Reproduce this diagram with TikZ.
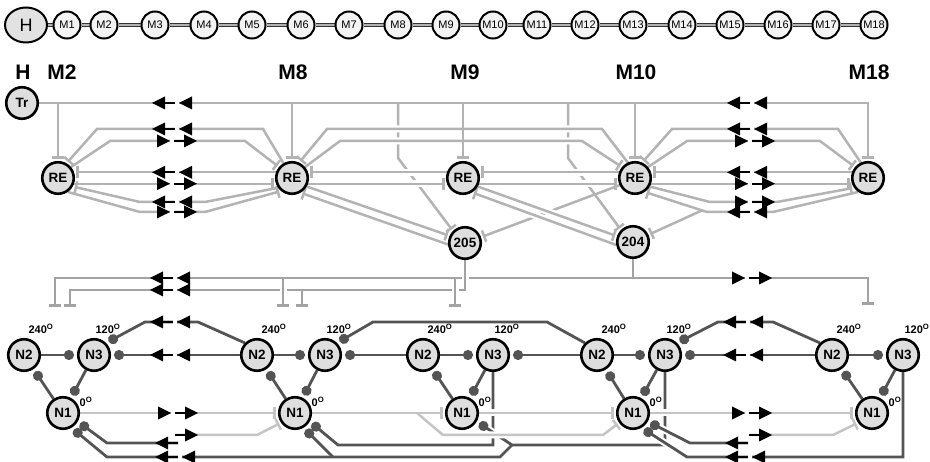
\documentclass[tikz,border=0pt]{standalone}
\usepackage{fontspec}
\setmainfont{Liberation Sans}
\usetikzlibrary{arrows.meta,shapes.geometric}
\pgfdeclarelayer{bg}
\pgfsetlayers{bg,main}
\definecolor{upg}{HTML}{B3B3B3}
\definecolor{outg}{HTML}{A3A3A3}
\definecolor{dkg}{HTML}{545454}
\definecolor{ltg}{HTML}{C4C4C4}
\definecolor{nfill}{HTML}{DEDEDE}
\definecolor{mfill}{HTML}{F3F3F3}
\newcommand{\halfmark}[3]{%
  \draw[black,line width=2.3pt] ({#1-4*#3},#2) -- ({#1+9*#3},#2);
  \fill[black] ({#1+6*#3},{#2-6.5}) -- ({#1+19*#3},#2) -- ({#1+6*#3},{#2+6.5}) -- cycle;}
\newcommand{\brkmark}[3]{%
  \fill[white] ({#1-8*#3},{#2-3.5}) rectangle ({#1-4*#3},{#2+3.5});
  \fill[black] ({#1-21*#3},{#2-6.5}) -- ({#1-8*#3},#2) -- ({#1-21*#3},{#2+6.5}) -- cycle;
  \halfmark{#1}{#2}{#3}}
\tikzset{
 nd/.style={circle,draw=black,line width=2.6pt,fill=nfill,minimum size=31.5pt,inner sep=0pt,font=\bfseries\fontsize{13.5}{13.5}\selectfont},
 mn/.style={circle,draw=black,line width=2pt,fill=mfill,minimum size=27pt,inner sep=0pt,font=\fontsize{11}{11}\selectfont},
 hel/.style={ellipse,draw=black,line width=2pt,fill=mfill!85!gray,minimum width=42pt,minimum height=35pt,inner sep=0pt,font=\fontsize{18}{18}\selectfont},
 seg/.style={font=\bfseries\fontsize{21}{21}\selectfont,inner sep=0pt},
 deg/.style={font=\bfseries\fontsize{11}{11}\selectfont,inner sep=0pt},
 dbl/.style={draw=black!80,line width=1.1pt,double=black!30,double distance=1.6pt},
 gl/.style={draw=upg,line width=2.5pt},
 ol/.style={draw=outg,line width=2.5pt},
 dk/.style={draw=dkg,line width=2.8pt},
 lt/.style={draw=ltg,line width=2.5pt},
 inh/.style={-{Bar[width=12pt]},shorten >=2pt},
 dot/.style={-{Circle[length=10pt]},shorten >=3pt},
 case/.style={preaction={draw=white,line width=7pt,-,shorten >=9pt,shorten <=9pt}},
}
\begin{document}
\begin{tikzpicture}[x=1pt,y=-1pt]
\useasboundingbox (0,0) rectangle (930,462);
% ---------- top row ----------
\node[hel] (H) at (26,25) {H};
\foreach \i/\x in {1/67,2/104,3/155,4/204,5/252,6/301,7/349,8/398,9/446,10/493,11/537,12/585,13/633,14/682,15/730,16/778,17/826,18/874}
  {\node[mn] (M\i) at (\x,25) {M\i};}
\begin{pgfonlayer}{bg}
\draw[dbl] (H) -- (M1);
\foreach \i/\j in {1/2,2/3,3/4,4/5,5/6,6/7,7/8,8/9,9/10,10/11,11/12,12/13,13/14,14/15,15/16,16/17,17/18}
  {\draw[dbl] (M\i) -- (M\j);}
\end{pgfonlayer}
% ---------- segment labels ----------
\node[seg] (LH) at (23,72) {H};
\node[seg] (LM2) at (62,72) {M2};
\node[seg] (LM8) at (293,72) {M8};
\node[seg] (LM9) at (465,72) {M9};
\node[seg] (LM10) at (636,72) {M10};
\node[seg] (LM18) at (869,72) {M18};
% ---------- upper nodes ----------
\node[nd] (Tr) at (22,103) {Tr};
\node[nd] (REa) at (58,178) {RE};
\node[nd] (REb) at (292,178) {RE};
\node[nd] (REc) at (463,178) {RE};
\node[nd] (REd) at (635,178) {RE};
\node[nd] (REe) at (868,178) {RE};
\node[nd] (n205) at (465,243) {205};
\node[nd] (n204) at (633,242) {204};
% ---------- lower nodes ----------
\foreach \g/\a/\b/\c in {a/24/94/63,b/257/325/295,c/423/493/462,d/597/665/633,e/832/903/872}{
  \node[nd] (N2\g) at (\a,355) {N2};
  \node[nd] (N3\g) at (\b,355) {N3};
  \node[nd] (N1\g) at (\c,413) {N1};
  \node[deg] (d2\g) at (\a+17,329) {240\textsuperscript{O}};
  \node[deg] (d3\g) at (\b+14,329) {120\textsuperscript{O}};
  \node[deg] (d1\g) at (\c+23,402) {0\textsuperscript{O}};
}
\coordinate (b398) at (398,103);
\coordinate (b568) at (568,103);
\coordinate (j204) at (702,210.4);
\coordinate (t55) at (55,307);
\coordinate (t70) at (70,307);
\coordinate (t283) at (283,307);
\coordinate (t302) at (302,307);
\coordinate (t455) at (455,307);
\coordinate (t868) at (868,305);
\coordinate (hA) at (178,443);
\coordinate (hD) at (748,443);
\coordinate (hB) at (175,435);
\coordinate (hE) at (749,435);
\coordinate (jb) at (512,445);
\coordinate (jc) at (333,457);
\coordinate (jd) at (417,413);
\begin{pgfonlayer}{bg}
% under paths
\draw[gl,inh] (b398) -- (398,158) -- (n205.135);
\draw[gl,inh] (b568) -- (568,158) -- (n204.135);
\draw[gl,inh] (REd.205) -- (n205.20);
% cased paths
\draw[gl,inh,case] (REd.115) -- (602,129) -- (327,129) -- (REb.65);
\draw[gl,inh,case] (REb.40) -- (340,141) -- (582,141) -- (REd.140);
\draw[gl,inh,case] (REc.160) -- (REb.20);
\draw[gl,inh,case] (REb.-20) -- (REc.200);
\draw[gl,inh,case] (REd.160) -- (REc.20);
\draw[gl,inh,case] (REc.-20) -- (REd.200);
\draw[gl,inh,case] (REc.-30) -- (n204.160);
\draw[gl,inh,case] (n204.190) -- (REc.-58);
% Tr line and drops
\draw[gl,inh] (Tr) -- (REe.north |- Tr) -- (REe.north);
\foreach \r in {REa,REb,REc,REd} {\draw[gl,inh] (\r.north |- Tr) -- (\r.north);}
% M2 - M8 pairs
\draw[gl,inh] (REb.120) -- (263,129) -- (97,129) -- (REa.60);
\draw[gl,inh] (REa.40) -- (110,141) -- (245,141) -- (REb.140);
\draw[gl,inh] (REb.160) -- (REa.20);
\draw[gl,inh] (REa.-20) -- (REb.200);
\draw[gl,inh] (REb.215) -- (205,202) -- (140,202) -- (REa.-30);
\draw[gl,inh] (REa.-55) -- (140,212) -- (205,212) -- (REb.230);
% M10 - M18 pairs
\draw[gl,inh] (REe.115) -- (838,129) -- (672,129) -- (REd.65);
\draw[gl,inh] (REd.40) -- (687,141) -- (820,141) -- (REe.140);
\draw[gl,inh] (REe.160) -- (REd.20);
\draw[gl,inh] (REd.-20) -- (REe.200);
\draw[gl,inh] (REd.-30) -- (710,202) -- (777,202) -- (REe.215);
\draw[gl,inh] (REe.235) -- (773,212) -- (707,212) -- (REd.-55);
\draw[gl,inh] (j204) -- (n204.25);
% RE <-> 205
\draw[gl,inh] (REb.-30) -- (n205.155);
\draw[gl,inh] (n205.185) -- (REb.-60);
% outputs of 204 and 205
\draw[ol,inh,shorten >=0pt] (n204.south) -- (n204.south |- 0,278) -- (t868 |- 0,278) -- (t868);
\draw[ol,inh,shorten >=0pt] (n204.south |- 0,278) -- (t55 |- 0,278) -- (t55);
\draw[ol,inh,shorten >=0pt,case] (n205.south) -- (n205.south |- 0,290) -- (t70 |- 0,290) -- (t70);
\draw[ol,inh,shorten >=0pt] (t302 |- 0,290) -- (t302);
\draw[ol,inh,shorten >=0pt,case] (t455 |- 0,278) -- (t455);
\draw[ol,inh,shorten >=0pt,case] (t283 |- 0,278) -- (t283);
% oscillator groups
\foreach \g in {a,b,c,d,e}{
  \draw[dk,dot] (N2\g) -- (N3\g);
  \draw[dk,dot] (N1\g) -- (N2\g);
  \draw[dk,dot] (N3\g) -- (N1\g);
}
\draw[dk,dot] (N2b) -- (N3a);
\draw[dk,dot] (N2b.135) -- (198,322) -- (145,322) -- (N3a.45);
\draw[dk,dot] (N2c) -- (N3b);
\draw[dk,dot] (N2d.135) -- (547,322) -- (373,322) -- (N3b.45);
\draw[dk,dot] (N2d) -- (N3c);
\draw[dk,dot] (N2e) -- (N3d);
\draw[dk,dot] (N2e.135) -- (773,322) -- (718,322) -- (N3d.45);
\draw[dk,dot] (N3c.south) -- (493,445) -- (338,445) -- (N1b.-30);
\draw[dk,dot,case] (N3d.south) -- (665,445) -- (jb) -- (N1c.-30);
\draw[dk,dot] (jb) -- (500,457) -- (107,457) -- (N1a.-60);
\draw[dk,dot] (jc) -- (N1b.-60);
\draw[dk,dot,case] (N3e.south) -- (903,457) -- (687,457) -- (N1d.-60);
\draw[dk,dot] (hA) -- (107,443) -- (N1a.-30);
\draw[dk,dot,case] (hD) -- (690,443) -- (N1d.-30);
% N1 chain (light)
\draw[lt,inh] (N1a) -- (N1b);
\draw[lt,inh] (hB) -- (257,435) -- (N1b.215);
\draw[lt,inh] (N1b) -- (N1c);
\draw[lt,inh,case] (jd) -- (443,435) -- (603,435) -- (N1d.215);
\draw[lt,inh,case] (N1c) -- (N1d);
\draw[lt,inh,case] (N1d) -- (N1e);
\draw[lt,inh] (hE) -- (833,435) -- (N1e.215);
\end{pgfonlayer}
% ---------- break markers ----------
\brkmark{171}{103}{(-1)}
\brkmark{171}{129}{(-1)}
\brkmark{178}{141}{1}
\brkmark{171}{172.3}{(-1)}
\brkmark{178}{183.7}{1}
\brkmark{171}{202}{(-1)}
\brkmark{178}{212}{1}
\brkmark{746}{103}{(-1)}
\brkmark{746}{129}{(-1)}
\brkmark{756}{141}{1}
\brkmark{746}{172.3}{(-1)}
\brkmark{756}{183.7}{1}
\brkmark{756}{202}{1}
\brkmark{746}{212}{(-1)}
\brkmark{169}{278}{(-1)}
\brkmark{169}{290}{(-1)}
\brkmark{753}{278}{1}
\brkmark{169}{322}{(-1)}
\brkmark{169}{355}{(-1)}
\brkmark{742}{322}{(-1)}
\brkmark{742}{355}{(-1)}
\brkmark{179}{413}{1}
\halfmark{179}{435}{1}
\brkmark{753}{413}{1}
\halfmark{753}{435}{1}
\halfmark{174}{443}{(-1)}
\brkmark{174}{457}{(-1)}
\halfmark{744}{443}{(-1)}
\brkmark{744}{457}{(-1)}
\end{tikzpicture}
\end{document}
